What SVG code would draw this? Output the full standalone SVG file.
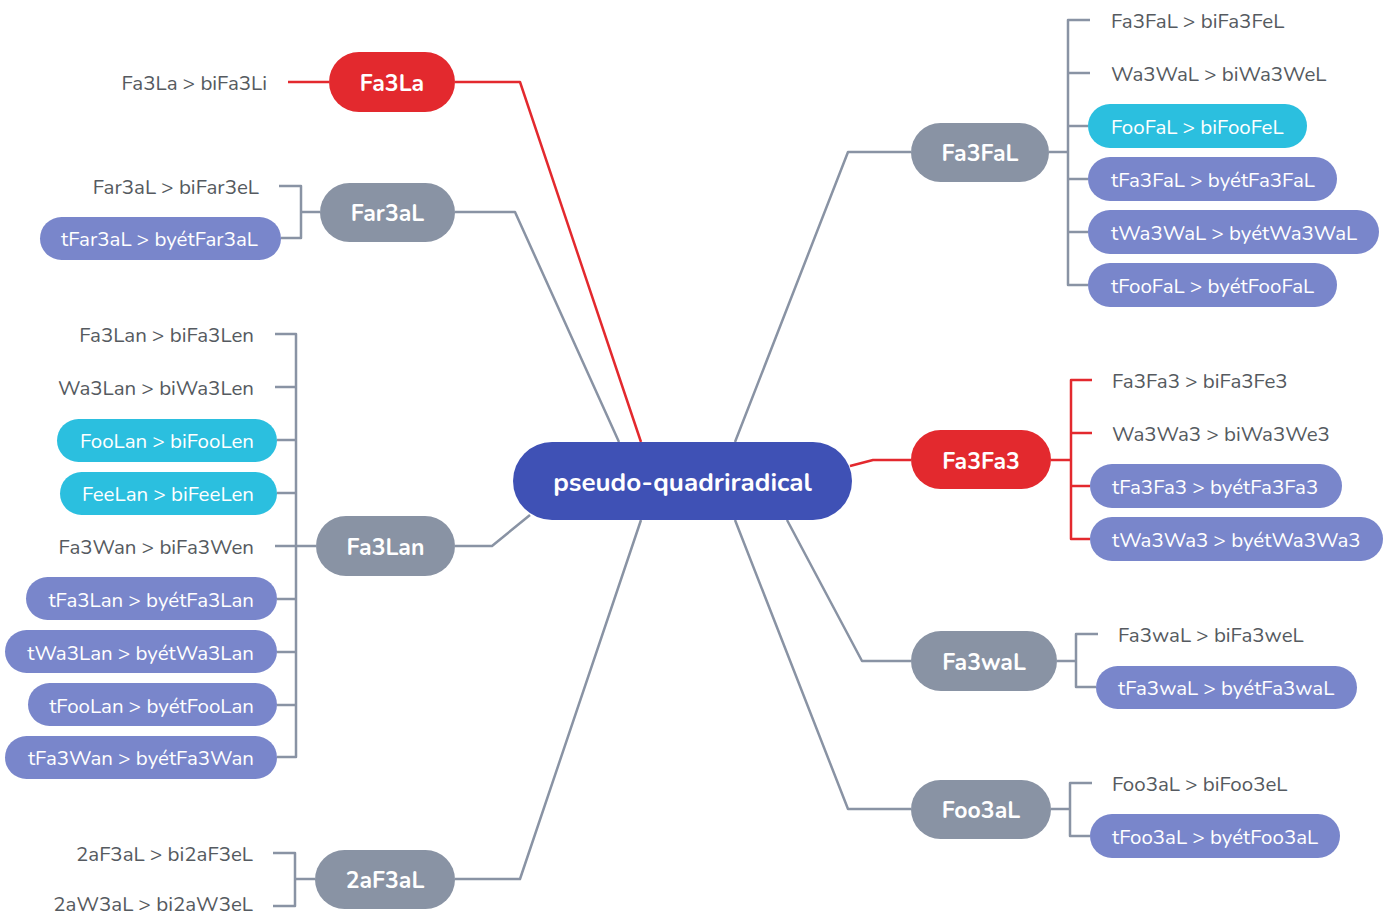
<svg xmlns="http://www.w3.org/2000/svg" width="1390" height="916" viewBox="0 0 1390 916">
<style>
.bg{fill:#ffffff}
.c{fill:none;stroke:#8993a4;stroke-width:2.5;stroke-linejoin:round}
.r{fill:none;stroke:#e3292e;stroke-width:2.5;stroke-linejoin:round}
.main{fill:#3f51b5}
.gray{fill:#8993a4}
.red{fill:#e3292e}
.pur{fill:#7986cb}
.cyan{fill:#2bbfdf}
.t{font-family:"Nunito","Noto Sans","Open Sans",sans-serif;dominant-baseline:central}
.nt{font-size:23px;font-weight:bold;fill:#ffffff;text-anchor:middle}
.mt{font-size:26px;font-weight:bold;fill:#ffffff;text-anchor:middle}
.lt{font-size:20.5px;fill:#555a60}
.pt{font-size:20.5px;fill:#ffffff}
.e{text-anchor:end}
</style>
<rect class="bg" x="0" y="0" width="1390" height="916"/>
<g id="connectors">
  <polyline class="r" points="455,82 520,82 641,442"/>
  <polyline class="c" points="455,212 515,212 619,442"/>
  <polyline class="c" points="455,546 492,546 530,515"/>
  <polyline class="c" points="455,879 520,879 641,520"/>
  <polyline class="c" points="911,152 848,152 735,442"/>
  <polyline class="r" points="911,460 873,460 850,466"/>
  <polyline class="c" points="911,661 862,661 787,520"/>
  <polyline class="c" points="911,809 848,809 735,520"/>
  <line class="r" x1="288" y1="82" x2="329" y2="82"/>
  <polyline class="c" points="279,186 301,186 301,238 281,238"/>
  <line class="c" x1="301" y1="212" x2="320" y2="212"/>
  <polyline class="c" points="275,334 296,334 296,757 277,757"/>
  <line class="c" x1="275" y1="387" x2="296" y2="387"/>
  <line class="c" x1="277" y1="440" x2="296" y2="440"/>
  <line class="c" x1="277" y1="493" x2="296" y2="493"/>
  <line class="c" x1="275" y1="546" x2="316" y2="546"/>
  <line class="c" x1="277" y1="599" x2="296" y2="599"/>
  <line class="c" x1="277" y1="652" x2="296" y2="652"/>
  <line class="c" x1="277" y1="705" x2="296" y2="705"/>
  <polyline class="c" points="273,853 295,853 295,906 273,906"/>
  <line class="c" x1="295" y1="879" x2="315" y2="879"/>
  <polyline class="c" points="1090,20 1068,20 1068,285 1088,285"/>
  <line class="c" x1="1049" y1="152" x2="1068" y2="152"/>
  <line class="c" x1="1068" y1="73" x2="1090" y2="73"/>
  <line class="c" x1="1068" y1="126" x2="1088" y2="126"/>
  <line class="c" x1="1068" y1="179" x2="1088" y2="179"/>
  <line class="c" x1="1068" y1="232" x2="1088" y2="232"/>
  <polyline class="r" points="1092,380 1071,380 1071,539 1090,539"/>
  <line class="r" x1="1051" y1="460" x2="1071" y2="460"/>
  <line class="r" x1="1071" y1="433" x2="1092" y2="433"/>
  <line class="r" x1="1071" y1="486" x2="1090" y2="486"/>
  <polyline class="c" points="1098,634 1076,634 1076,687 1096,687"/>
  <line class="c" x1="1057" y1="661" x2="1076" y2="661"/>
  <polyline class="c" points="1092,783 1070,783 1070,836 1090,836"/>
  <line class="c" x1="1051" y1="809" x2="1070" y2="809"/>
</g>
<g id="n-center">
  <rect class="main" x="513" y="442" width="339" height="78" rx="39"/>
  <text class="t mt" x="682.5" y="482">pseudo-quadriradical</text>
</g>
<g id="n-Fa3La">
  <rect class="red" x="329" y="52" width="126" height="60" rx="30"/>
  <text class="t nt" x="392" y="83">Fa3La</text>
</g>
<g id="n-Fa3La-1"><text class="t lt e" x="267" y="83">Fa3La &gt; biFa3Li</text></g>
<g id="n-Far3aL">
  <rect class="gray" x="320" y="183" width="135" height="59" rx="29.5"/>
  <text class="t nt" x="387.5" y="213">Far3aL</text>
</g>
<g id="n-Far3aL-1"><text class="t lt e" x="259" y="187">Far3aL &gt; biFar3eL</text></g>
<g id="n-Far3aL-2">
  <rect class="pur" x="40" y="217" width="241" height="43" rx="21.5"/>
  <text class="t pt e" x="258" y="239">tFar3aL &gt; byétFar3aL</text>
</g>
<g id="n-Fa3Lan">
  <rect class="gray" x="316" y="516" width="139" height="60" rx="30"/>
  <text class="t nt" x="385.5" y="547">Fa3Lan</text>
</g>
<g id="n-Fa3Lan-1"><text class="t lt e" x="254" y="335">Fa3Lan &gt; biFa3Len</text></g>
<g id="n-Fa3Lan-2"><text class="t lt e" x="254" y="388">Wa3Lan &gt; biWa3Len</text></g>
<g id="n-Fa3Lan-3">
  <rect class="cyan" x="57" y="419" width="220" height="43" rx="21.5"/>
  <text class="t pt e" x="254" y="441">FooLan &gt; biFooLen</text>
</g>
<g id="n-Fa3Lan-4">
  <rect class="cyan" x="60" y="472" width="217" height="43" rx="21.5"/>
  <text class="t pt e" x="254" y="494">FeeLan &gt; biFeeLen</text>
</g>
<g id="n-Fa3Lan-5"><text class="t lt e" x="254" y="547">Fa3Wan &gt; biFa3Wen</text></g>
<g id="n-Fa3Lan-6">
  <rect class="pur" x="26" y="577" width="251" height="43" rx="21.5"/>
  <text class="t pt e" x="254" y="600">tFa3Lan &gt; byétFa3Lan</text>
</g>
<g id="n-Fa3Lan-7">
  <rect class="pur" x="5" y="630" width="272" height="43" rx="21.5"/>
  <text class="t pt e" x="254" y="653">tWa3Lan &gt; byétWa3Lan</text>
</g>
<g id="n-Fa3Lan-8">
  <rect class="pur" x="28" y="683" width="249" height="43" rx="21.5"/>
  <text class="t pt e" x="254" y="706">tFooLan &gt; byétFooLan</text>
</g>
<g id="n-Fa3Lan-9">
  <rect class="pur" x="5" y="736" width="272" height="43" rx="21.5"/>
  <text class="t pt e" x="254" y="758">tFa3Wan &gt; byétFa3Wan</text>
</g>
<g id="n-2aF3aL">
  <rect class="gray" x="315" y="850" width="140" height="59" rx="29.5"/>
  <text class="t nt" x="385" y="880">2aF3aL</text>
</g>
<g id="n-2aF3aL-1"><text class="t lt e" x="253" y="854">2aF3aL &gt; bi2aF3eL</text></g>
<g id="n-2aF3aL-2"><text class="t lt e" x="253" y="904">2aW3aL &gt; bi2aW3eL</text></g>
<g id="n-Fa3FaL">
  <rect class="gray" x="911" y="123" width="138" height="59" rx="29.5"/>
  <text class="t nt" x="980" y="153">Fa3FaL</text>
</g>
<g id="n-Fa3FaL-1"><text class="t lt" x="1111" y="21">Fa3FaL &gt; biFa3FeL</text></g>
<g id="n-Fa3FaL-2"><text class="t lt" x="1111" y="74">Wa3WaL &gt; biWa3WeL</text></g>
<g id="n-Fa3FaL-3">
  <rect class="cyan" x="1088" y="104" width="219" height="44" rx="22"/>
  <text class="t pt" x="1111" y="127">FooFaL &gt; biFooFeL</text>
</g>
<g id="n-Fa3FaL-4">
  <rect class="pur" x="1088" y="157" width="249" height="44" rx="22"/>
  <text class="t pt" x="1111" y="180">tFa3FaL &gt; byétFa3FaL</text>
</g>
<g id="n-Fa3FaL-5">
  <rect class="pur" x="1088" y="210" width="291" height="44" rx="22"/>
  <text class="t pt" x="1111" y="233">tWa3WaL &gt; byétWa3WaL</text>
</g>
<g id="n-Fa3FaL-6">
  <rect class="pur" x="1088" y="263" width="249" height="44" rx="22"/>
  <text class="t pt" x="1111" y="286">tFooFaL &gt; byétFooFaL</text>
</g>
<g id="n-Fa3Fa3">
  <rect class="red" x="911" y="430" width="140" height="59" rx="29.5"/>
  <text class="t nt" x="981" y="461">Fa3Fa3</text>
</g>
<g id="n-Fa3Fa3-1"><text class="t lt" x="1112" y="381">Fa3Fa3 &gt; biFa3Fe3</text></g>
<g id="n-Fa3Fa3-2"><text class="t lt" x="1112" y="434">Wa3Wa3 &gt; biWa3We3</text></g>
<g id="n-Fa3Fa3-3">
  <rect class="pur" x="1090" y="464" width="252" height="44" rx="22"/>
  <text class="t pt" x="1112" y="487">tFa3Fa3 &gt; byétFa3Fa3</text>
</g>
<g id="n-Fa3Fa3-4">
  <rect class="pur" x="1090" y="517" width="293" height="44" rx="22"/>
  <text class="t pt" x="1112" y="540">tWa3Wa3 &gt; byétWa3Wa3</text>
</g>
<g id="n-Fa3waL">
  <rect class="gray" x="911" y="631" width="146" height="60" rx="30"/>
  <text class="t nt" x="984" y="662">Fa3waL</text>
</g>
<g id="n-Fa3waL-1"><text class="t lt" x="1118" y="635">Fa3waL &gt; biFa3weL</text></g>
<g id="n-Fa3waL-2">
  <rect class="pur" x="1096" y="666" width="261" height="43" rx="21.5"/>
  <text class="t pt" x="1118" y="688">tFa3waL &gt; byétFa3waL</text>
</g>
<g id="n-Foo3aL">
  <rect class="gray" x="911" y="780" width="140" height="59" rx="29.5"/>
  <text class="t nt" x="981" y="810">Foo3aL</text>
</g>
<g id="n-Foo3aL-1"><text class="t lt" x="1112" y="784">Foo3aL &gt; biFoo3eL</text></g>
<g id="n-Foo3aL-2">
  <rect class="pur" x="1090" y="814" width="250" height="44" rx="22"/>
  <text class="t pt" x="1112" y="837">tFoo3aL &gt; byétFoo3aL</text>
</g>
</svg>
